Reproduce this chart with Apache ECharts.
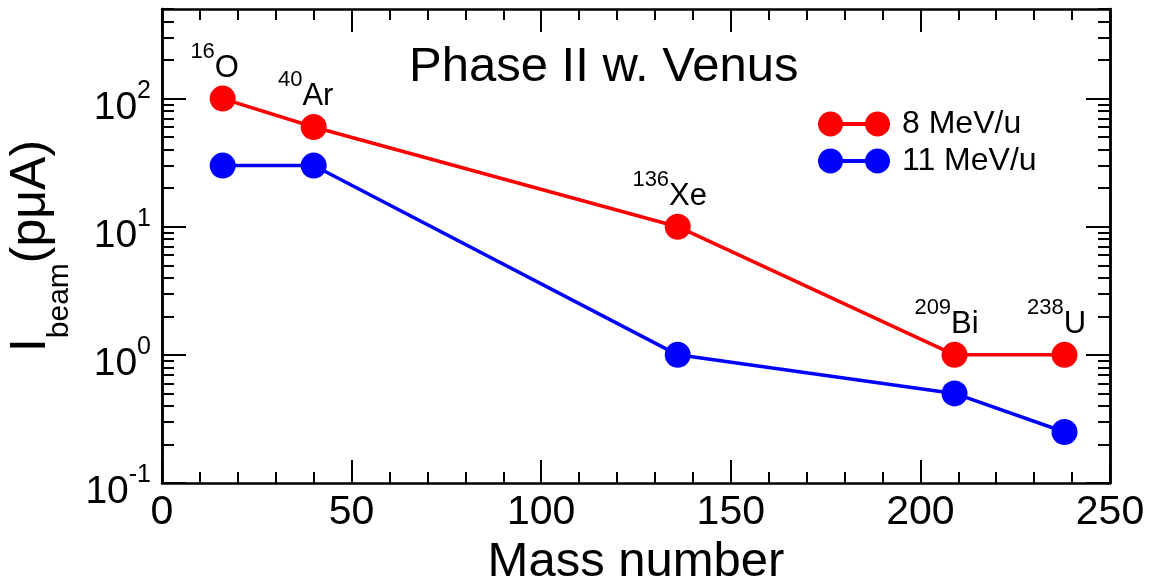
<!DOCTYPE html>
<html>
<head>
<meta charset="utf-8">
<script src="https://cdn.jsdelivr.net/npm/echarts@6/dist/echarts.min.js"></script>
<style>
  html, body { margin: 0; padding: 0; background: #fff; }
  #chart { width: 1157px; height: 578px; }
</style>
</head>
<body>
<div id="chart"></div>
<script>
// 数据: 质量数与两种能量下的束流强度
const massNumbers = [16, 40, 136, 209, 238]
const elements = ['O', 'Ar', 'Xe', 'Bi', 'U']
const beam8MeV = [100, 60, 10, 1, 1]
const beam11MeV = [30, 30, 1, 0.5, 0.25]
const seriesNames = ['8 MeV/u', '11 MeV/u']
const yDecades = [0.1, 1, 10, 100]

const FONT = "'Liberation Sans', Arial, sans-serif"
const Y_MIN = 0.1
const Y_MAX = 500

// 对数轴的次刻度: 每个十倍区间内的 2..9
const yMinorTicks = []
yDecades.forEach((d) => {
  for (let k = 2; k <= 9; k++) {
    const v = +(d * k).toPrecision(6)
    if (v <= Y_MAX) yMinorTicks.push(v)
  }
})

const legendIcon = 'path://M0,12.5A12.5,12.5 0 1,1 25,12.5A12.5,12.5 0 1,1 0,12.5Z' +
  'M23,10.5L49,10.5L49,14.5L23,14.5Z' +
  'M47,12.5A12.5,12.5 0 1,1 72,12.5A12.5,12.5 0 1,1 47,12.5Z'

const toPairs = (ys) => massNumbers.map((x, i) => [x, ys[i]])

function valueAxisX(position, showLabel) {
  return {
    type: 'value',
    position,
    min: 0,
    max: 250,
    interval: 50,
    splitNumber: 5,
    axisLine: { show: true, onZero: false, lineStyle: { color: '#000', width: 2.5 } },
    axisTick: { show: true, inside: true, length: 23, lineStyle: { color: '#000', width: 2 } },
    minorTick: { show: true, splitNumber: 5, length: 11, lineStyle: { color: '#000', width: 2 } },
    splitLine: { show: false },
    axisLabel: {
      show: showLabel,
      margin: 9,
      color: '#000',
      fontFamily: FONT,
      fontSize: 41
    }
  }
}

// 上标靠行高与 padding 抬高: 主数字底对齐, 指数顶对齐
function logAxisY(position, tickValues, tickLength, showLabel) {
  return {
    type: 'log',
    logBase: 10,
    position,
    min: Y_MIN,
    max: Y_MAX,
    axisLine: { show: true, lineStyle: { color: '#000', width: 2.5 } },
    axisTick: {
      show: true,
      inside: true,
      length: tickLength,
      customValues: tickValues,
      lineStyle: { color: '#000', width: 2 }
    },
    splitLine: { show: false },
    axisLabel: {
      show: showLabel,
      customValues: yDecades,
      margin: 11,
      color: '#000',
      fontFamily: FONT,
      formatter: (value) => `{b|10}{s|${Math.round(Math.log10(value))}}`,
      rich: {
        b: { fontSize: 39, lineHeight: 58, verticalAlign: 'bottom', fontFamily: FONT, color: '#000' },
        s: { fontSize: 25, verticalAlign: 'top', padding: [9, 0, 0, 0], fontFamily: FONT, color: '#000' }
      }
    }
  }
}

const xBottom = valueAxisX('bottom', true)
xBottom.name = 'Mass number'
xBottom.nameLocation = 'middle'
xBottom.nameGap = 52
xBottom.nameTextStyle = { color: '#000', fontFamily: FONT, fontSize: 49 }

const yLeft = logAxisY('left', yDecades, 24, true)
yLeft.name = '{m|I}{sub|beam}{m|(pμA)}'
yLeft.nameLocation = 'middle'
yLeft.nameGap = 86
yLeft.nameTextStyle = {
  color: '#000',
  fontFamily: FONT,
  rich: {
    m: { fontSize: 50, lineHeight: 50, verticalAlign: 'top', fontFamily: FONT, color: '#000' },
    sub: { fontSize: 30, verticalAlign: 'top', padding: [38, 0, 0, 0], fontFamily: FONT, color: '#000' }
  }
}

const chart = echarts.init(document.getElementById('chart'))

chart.setOption({
  backgroundColor: '#fff',
  animation: false,
  title: {
    text: 'Phase II w. Venus',
    left: 409,
    top: 43,
    padding: 0,
    textStyle: { color: '#000', fontFamily: FONT, fontSize: 49, fontWeight: 'normal' }
  },
  legend: {
    orient: 'vertical',
    left: 818,
    top: 108,
    padding: 0,
    itemWidth: 72,
    itemHeight: 25,
    itemGap: 5,
    icon: legendIcon,
    data: seriesNames,
    textStyle: { color: '#000', fontFamily: FONT, fontSize: 32, padding: [0, 0, 0, 7] }
  },
  grid: { left: 162, right: 47, top: 9, bottom: 95, outerBoundsMode: 'none' },
  xAxis: [xBottom, valueAxisX('top', false)],
  yAxis: [
    yLeft,
    logAxisY('left', yMinorTicks, 12, false),
    logAxisY('right', yDecades, 24, false),
    logAxisY('right', yMinorTicks, 12, false)
  ],
  series: [
    {
      name: seriesNames[0],
      type: 'line',
      xAxisIndex: 0,
      yAxisIndex: 0,
      data: toPairs(beam8MeV),
      symbol: 'circle',
      symbolSize: 26,
      itemStyle: { color: '#ff0000' },
      lineStyle: { color: '#ff0000', width: 3.5 },
      label: {
        show: true,
        position: 'top',
        distance: 2,
        offset: [-8, 0],
        fontFamily: FONT,
        formatter: (p) => `{sup|${massNumbers[p.dataIndex]}}{el|${elements[p.dataIndex]}}`,
        rich: {
          sup: { fontSize: 22, verticalAlign: 'top', fontFamily: FONT, color: '#000' },
          el: { fontSize: 31, lineHeight: 43, verticalAlign: 'bottom', fontFamily: FONT, color: '#000' }
        }
      },
      z: 3
    },
    {
      name: seriesNames[1],
      type: 'line',
      xAxisIndex: 0,
      yAxisIndex: 0,
      data: toPairs(beam11MeV),
      symbol: 'circle',
      symbolSize: 26,
      itemStyle: { color: '#0000ff' },
      lineStyle: { color: '#0000ff', width: 3.5 },
      z: 2
    }
  ]
})
</script>
</body>
</html>
